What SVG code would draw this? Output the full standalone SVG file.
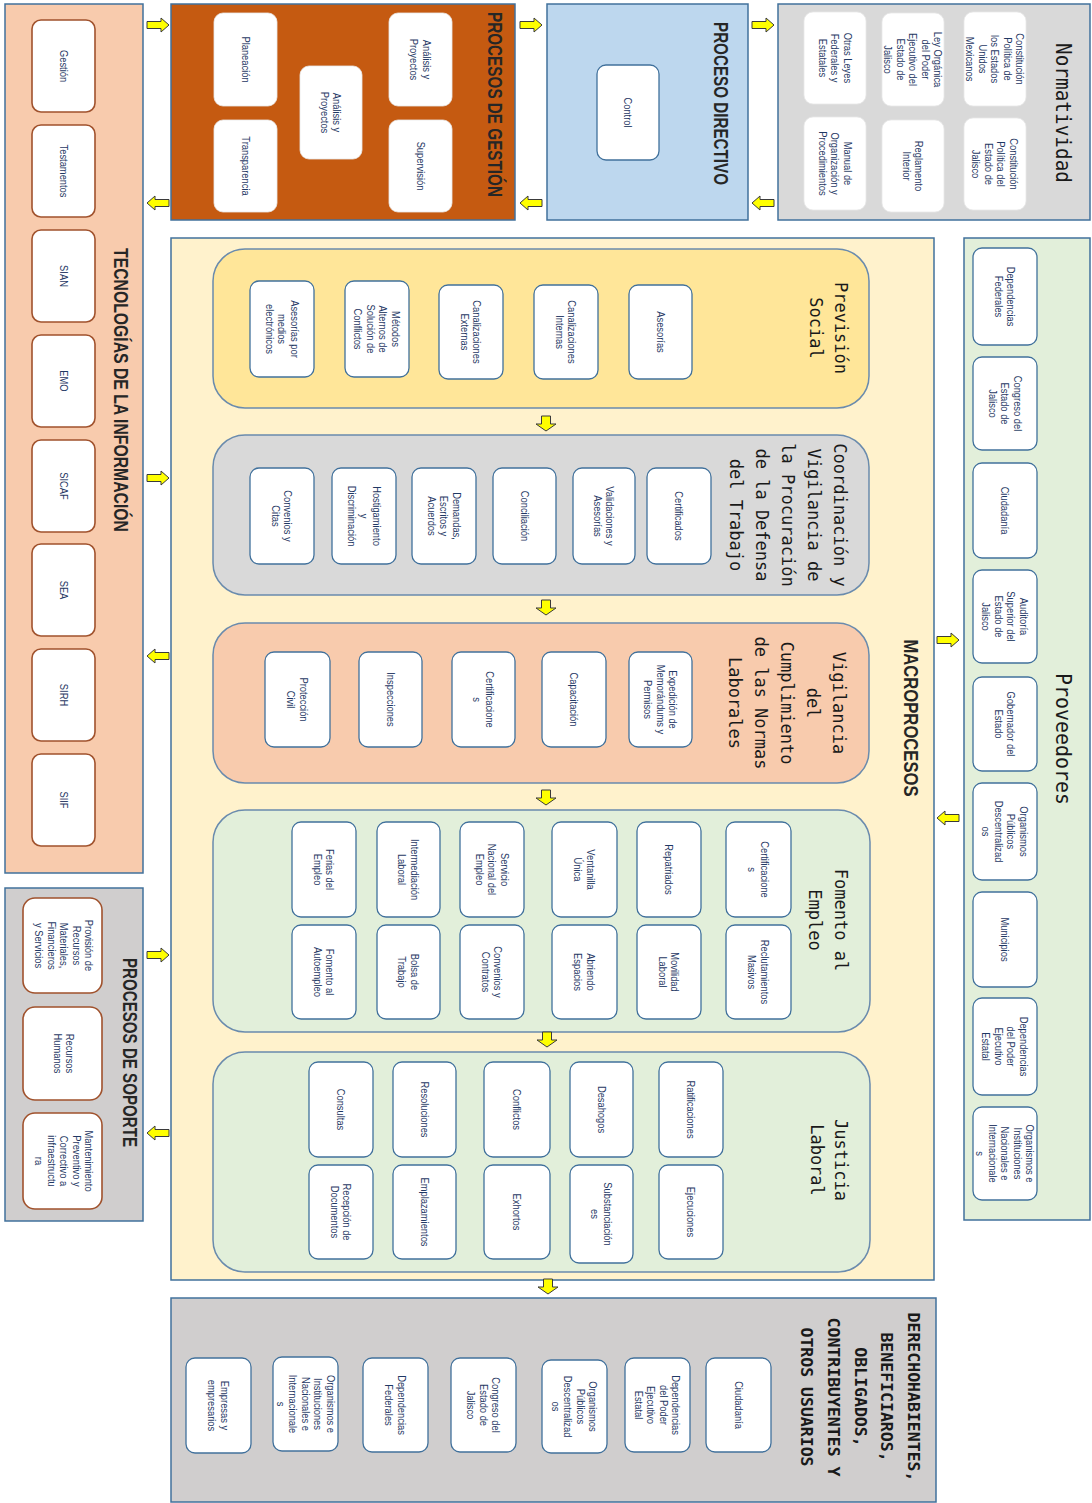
<svg xmlns="http://www.w3.org/2000/svg" width="1092" height="1503" viewBox="0 0 1092 1503">
<style>
.pn{stroke:#41719c;stroke-width:1.5}
.sec{stroke:#6a8bad;stroke-width:1.5}
.bx{fill:#fff;stroke:#41719c;stroke-width:1.3}
.bxb{fill:#fff;stroke:#a0522d;stroke-width:1.6}
.bxn{fill:#fff;stroke:#e8e8e8;stroke-width:0.8}
.s{font-family:"Liberation Sans",Arial,sans-serif;font-size:11px;fill:#1f3864;text-anchor:middle}
.h{font-family:"Liberation Sans",Arial,sans-serif;font-size:20px;font-weight:bold;fill:#262626;text-anchor:middle}
.m{font-family:"DejaVu Sans Mono","Liberation Mono",monospace;font-size:17px;fill:#1a1a1a;text-anchor:middle}
.mb{font-family:"DejaVu Sans Mono","Liberation Mono",monospace;font-size:16.5px;font-weight:bold;fill:#1a1a1a;text-anchor:middle}
.big{font-family:"DejaVu Sans Mono","Liberation Mono",monospace;font-size:21px;fill:#1a1a1a;text-anchor:middle}
.ar{fill:#ffff00;stroke:#3a3a3a;stroke-width:1}
</style>
<defs>
<path id="arR" d="M0,-3.5 H14 V-7 L22,0 L14,7 V3.5 H0 Z"/>
<path id="arL" d="M22,-3.5 H8 V-7 L0,0 L8,7 V3.5 H22 Z"/>
<path id="arD" d="M-4.5,0 V8 H-10 L0,15 L10,8 H4.5 V0 Z"/>
</defs>

<!-- Panels -->
<g id="tecnologias">
<rect class="pn" x="5" y="4" width="138" height="869" fill="#f8cbad"/>
<text class="h" transform="translate(121,390) rotate(90)" x="0" y="7" textLength="284" lengthAdjust="spacingAndGlyphs">TECNOLOGÍAS DE LA INFORMACIÓN</text>
<rect class="bxb" x="32" y="20" width="63" height="92" rx="9"/>
<text class="s" transform="translate(63.5,66) rotate(90) scale(0.85,1)"><tspan x="0" y="3.8">Gestión</tspan></text>
<rect class="bxb" x="32" y="125" width="63" height="92" rx="9"/>
<text class="s" transform="translate(63.5,171) rotate(90) scale(0.85,1)"><tspan x="0" y="3.8">Testamentos</tspan></text>
<rect class="bxb" x="32" y="230" width="63" height="92" rx="9"/>
<text class="s" transform="translate(63.5,276) rotate(90) scale(0.85,1)"><tspan x="0" y="3.8">SIAN</tspan></text>
<rect class="bxb" x="32" y="335" width="63" height="92" rx="9"/>
<text class="s" transform="translate(63.5,381) rotate(90) scale(0.85,1)"><tspan x="0" y="3.8">EMO</tspan></text>
<rect class="bxb" x="32" y="440" width="63" height="92" rx="9"/>
<text class="s" transform="translate(63.5,486) rotate(90) scale(0.85,1)"><tspan x="0" y="3.8">SICAF</tspan></text>
<rect class="bxb" x="32" y="544" width="63" height="92" rx="9"/>
<text class="s" transform="translate(63.5,590) rotate(90) scale(0.85,1)"><tspan x="0" y="3.8">SEA</tspan></text>
<rect class="bxb" x="32" y="649" width="63" height="92" rx="9"/>
<text class="s" transform="translate(63.5,695) rotate(90) scale(0.85,1)"><tspan x="0" y="3.8">SIRH</tspan></text>
<rect class="bxb" x="32" y="754" width="63" height="92" rx="9"/>
<text class="s" transform="translate(63.5,800) rotate(90) scale(0.85,1)"><tspan x="0" y="3.8">SIIF</tspan></text>
</g>

<g id="soporte">
<rect class="pn" x="5" y="888" width="138" height="333" fill="#d0cece"/>
<text class="h" transform="translate(129.5,1052.5) rotate(90)" x="0" y="7" textLength="189" lengthAdjust="spacingAndGlyphs">PROCESOS DE SOPORTE</text>
<rect class="bxb" x="23" y="898" width="79" height="95" rx="12"/>
<text class="s" transform="translate(64,945.5) rotate(90) scale(0.85,1)"><tspan x="0" y="-21.2">Provisión de</tspan><tspan x="0" y="-8.7">Recursos</tspan><tspan x="0" y="3.8">Materiales,</tspan><tspan x="0" y="16.3">Financieros</tspan><tspan x="0" y="28.8">y Servicios</tspan></text>
<rect class="bxb" x="23" y="1007" width="79" height="93" rx="12"/>
<text class="s" transform="translate(64,1053.5) rotate(90) scale(0.85,1)"><tspan x="0" y="-2.45">Recursos</tspan><tspan x="0" y="10.05">Humanos</tspan></text>
<rect class="bxb" x="23" y="1113" width="79" height="96" rx="12"/>
<text class="s" transform="translate(64,1161) rotate(90) scale(0.85,1)"><tspan x="0" y="-21.2">Mantenimiento</tspan><tspan x="0" y="-8.7">Preventivo y</tspan><tspan x="0" y="3.8">Correctivo a</tspan><tspan x="0" y="16.3">infraestructu</tspan><tspan x="0" y="28.8">ra</tspan></text>
</g>

<g id="gestion">
<rect class="pn" x="171" y="4" width="344" height="216" fill="#c55a11"/>
<text class="h" transform="translate(494.5,104.5) rotate(90)" x="0" y="7" textLength="185" lengthAdjust="spacingAndGlyphs">PROCESOS DE GESTIÓN</text>
<rect class="bxn" x="389" y="13" width="63" height="93" rx="9"/>
<text class="s" transform="translate(420.5,59.5) rotate(90) scale(0.85,1)"><tspan x="0" y="-2.45">Análisis y</tspan><tspan x="0" y="10.05">Proyectos</tspan></text>
<rect class="bxn" x="389" y="120" width="63" height="92" rx="9"/>
<text class="s" transform="translate(420.5,166) rotate(90) scale(0.85,1)"><tspan x="0" y="3.8">Supervisión</tspan></text>
<rect class="bxn" x="300" y="66" width="62" height="93" rx="9"/>
<text class="s" transform="translate(331,112.5) rotate(90) scale(0.85,1)"><tspan x="0" y="-2.45">Análisis y</tspan><tspan x="0" y="10.05">Proyectos</tspan></text>
<rect class="bxn" x="214" y="13" width="63" height="93" rx="9"/>
<text class="s" transform="translate(245.5,59.5) rotate(90) scale(0.85,1)"><tspan x="0" y="3.8">Planeación</tspan></text>
<rect class="bxn" x="214" y="120" width="63" height="92" rx="9"/>
<text class="s" transform="translate(245.5,166) rotate(90) scale(0.85,1)"><tspan x="0" y="3.8">Transparencia</tspan></text>
</g>

<g id="directivo">
<rect class="pn" x="547" y="4" width="201" height="216" fill="#bdd7ee"/>
<text class="h" transform="translate(721,103.5) rotate(90)" x="0" y="7" textLength="163" lengthAdjust="spacingAndGlyphs">PROCESO DIRECTIVO</text>
<rect class="bx" x="597" y="65" width="62" height="95" rx="9"/>
<text class="s" transform="translate(628,112.5) rotate(90) scale(0.85,1)"><tspan x="0" y="3.8">Control</tspan></text>
</g>

<g id="normatividad">
<rect class="pn" x="778" y="4" width="312" height="216" fill="#d9d9d9"/>
<text class="big" transform="translate(1062,113) rotate(90)" x="0" y="6" textLength="140" lengthAdjust="spacingAndGlyphs">Normatividad</text>
<rect class="bxn" x="964" y="12" width="62" height="94" rx="9"/>
<text class="s" transform="translate(995,59) rotate(90) scale(0.85,1)"><tspan x="0" y="-21.2">Constitución</tspan><tspan x="0" y="-8.7">Política de</tspan><tspan x="0" y="3.8">los Estados</tspan><tspan x="0" y="16.3">Unidos</tspan><tspan x="0" y="28.8">Mexicanos</tspan></text>
<rect class="bxn" x="964" y="118" width="62" height="92" rx="9"/>
<text class="s" transform="translate(995,164) rotate(90) scale(0.85,1)"><tspan x="0" y="-14.95">Constitución</tspan><tspan x="0" y="-2.45">Política del</tspan><tspan x="0" y="10.05">Estado de</tspan><tspan x="0" y="22.55">Jalisco</tspan></text>
<rect class="bxn" x="882" y="13" width="62" height="93" rx="9"/>
<text class="s" transform="translate(913,59.5) rotate(90) scale(0.85,1)"><tspan x="0" y="-21.2">Ley Orgánica</tspan><tspan x="0" y="-8.7">del Poder</tspan><tspan x="0" y="3.8">Ejecutivo del</tspan><tspan x="0" y="16.3">Estado de</tspan><tspan x="0" y="28.8">Jalisco</tspan></text>
<rect class="bxn" x="882" y="120" width="62" height="92" rx="9"/>
<text class="s" transform="translate(913,166) rotate(90) scale(0.85,1)"><tspan x="0" y="-2.45">Reglamento</tspan><tspan x="0" y="10.05">Interior</tspan></text>
<rect class="bxn" x="804" y="12" width="62" height="92" rx="9"/>
<text class="s" transform="translate(835,58) rotate(90) scale(0.85,1)"><tspan x="0" y="-8.7">Otras Leyes</tspan><tspan x="0" y="3.8">Federales y</tspan><tspan x="0" y="16.3">Estatales</tspan></text>
<rect class="bxn" x="804" y="117" width="62" height="93" rx="9"/>
<text class="s" transform="translate(835,163.5) rotate(90) scale(0.85,1)"><tspan x="0" y="-8.7">Manual de</tspan><tspan x="0" y="3.8">Organización y</tspan><tspan x="0" y="16.3">Procedimientos</tspan></text>
</g>

<g id="macroprocesos">
<rect class="pn" x="171" y="238" width="763" height="1042" fill="#fff2cc"/>
<text class="h" transform="translate(911,718) rotate(90)" x="0" y="7" textLength="157" lengthAdjust="spacingAndGlyphs">MACROPROCESOS</text>
</g>

<g id="prevision">
<rect class="sec" x="213" y="249" width="656" height="159" rx="32" fill="#ffe699"/>
<text class="m" transform="translate(828.5,328) rotate(90)"><tspan x="0" y="-6.5">Previsión</tspan><tspan x="0" y="18.5">Social</tspan></text>
<rect class="bx" x="629" y="285" width="63" height="94" rx="9"/>
<text class="s" transform="translate(660.5,332) rotate(90) scale(0.85,1)"><tspan x="0" y="3.8">Asesorías</tspan></text>
<rect class="bx" x="534" y="285" width="64" height="94" rx="9"/>
<text class="s" transform="translate(566,332) rotate(90) scale(0.85,1)"><tspan x="0" y="-2.45">Canalizaciones</tspan><tspan x="0" y="10.05">Internas</tspan></text>
<rect class="bx" x="439" y="285" width="64" height="94" rx="9"/>
<text class="s" transform="translate(471,332) rotate(90) scale(0.85,1)"><tspan x="0" y="-2.45">Canalizaciones</tspan><tspan x="0" y="10.05">Externas</tspan></text>
<rect class="bx" x="345" y="281" width="64" height="96" rx="9"/>
<text class="s" transform="translate(377,329) rotate(90) scale(0.85,1)"><tspan x="0" y="-14.95">Métodos</tspan><tspan x="0" y="-2.45">Alternos de</tspan><tspan x="0" y="10.05">Solución de</tspan><tspan x="0" y="22.55">Conflictos</tspan></text>
<rect class="bx" x="250" y="281" width="64" height="96" rx="9"/>
<text class="s" transform="translate(282,329) rotate(90) scale(0.85,1)"><tspan x="0" y="-8.7">Asesorías por</tspan><tspan x="0" y="3.8">medios</tspan><tspan x="0" y="16.3">electrónicos</tspan></text>
</g>

<g id="coordinacion">
<rect class="sec" x="213" y="435" width="656" height="160" rx="32" fill="#d9d9d9"/>
<text class="m" transform="translate(788,515) rotate(90)"><tspan x="0" y="-46">Coordinación y</tspan><tspan x="0" y="-20">Vigilancia de</tspan><tspan x="0" y="6">la Procuración</tspan><tspan x="0" y="32">de la Defensa</tspan><tspan x="0" y="58">del Trabajo</tspan></text>
<rect class="bx" x="647" y="468" width="64" height="96" rx="9"/>
<text class="s" transform="translate(679,516) rotate(90) scale(0.85,1)"><tspan x="0" y="3.8">Certificados</tspan></text>
<rect class="bx" x="573" y="468" width="62" height="96" rx="9"/>
<text class="s" transform="translate(604,516) rotate(90) scale(0.85,1)"><tspan x="0" y="-2.45">Validaciones y</tspan><tspan x="0" y="10.05">Asesorías</tspan></text>
<rect class="bx" x="493" y="468" width="63" height="96" rx="9"/>
<text class="s" transform="translate(524.5,516) rotate(90) scale(0.85,1)"><tspan x="0" y="3.8">Conciliación</tspan></text>
<rect class="bx" x="412" y="468" width="64" height="96" rx="9"/>
<text class="s" transform="translate(444,516) rotate(90) scale(0.85,1)"><tspan x="0" y="-8.7">Demandas,</tspan><tspan x="0" y="3.8">Escritos y</tspan><tspan x="0" y="16.3">Acuerdos</tspan></text>
<rect class="bx" x="332" y="468" width="64" height="96" rx="9"/>
<text class="s" transform="translate(364,516) rotate(90) scale(0.85,1)"><tspan x="0" y="-8.7">Hostigamiento</tspan><tspan x="0" y="3.8">y</tspan><tspan x="0" y="16.3">Discriminación</tspan></text>
<rect class="bx" x="250" y="468" width="64" height="96" rx="9"/>
<text class="s" transform="translate(282,516) rotate(90) scale(0.85,1)"><tspan x="0" y="-2.45">Convenios y</tspan><tspan x="0" y="10.05">Citas</tspan></text>
</g>

<g id="vigilancia">
<rect class="sec" x="213" y="623" width="656" height="160" rx="32" fill="#f8cbad"/>
<text class="m" transform="translate(786.5,703) rotate(90)"><tspan x="0" y="-46">Vigilancia</tspan><tspan x="0" y="-20">del</tspan><tspan x="0" y="6">Cumplimiento</tspan><tspan x="0" y="32">de las Normas</tspan><tspan x="0" y="58">Laborales</tspan></text>
<rect class="bx" x="629" y="652" width="63" height="95" rx="9"/>
<text class="s" transform="translate(660.5,699.5) rotate(90) scale(0.85,1)"><tspan x="0" y="-8.7">Expedición de</tspan><tspan x="0" y="3.8">Memorándums y</tspan><tspan x="0" y="16.3">Permisos</tspan></text>
<rect class="bx" x="542" y="652" width="64" height="95" rx="9"/>
<text class="s" transform="translate(574,699.5) rotate(90) scale(0.85,1)"><tspan x="0" y="3.8">Capacitación</tspan></text>
<rect class="bx" x="452" y="652" width="63" height="95" rx="9"/>
<text class="s" transform="translate(483.5,699.5) rotate(90) scale(0.85,1)"><tspan x="0" y="-2.45">Certificacione</tspan><tspan x="0" y="10.05">s</tspan></text>
<rect class="bx" x="359" y="652" width="63" height="95" rx="9"/>
<text class="s" transform="translate(390.5,699.5) rotate(90) scale(0.85,1)"><tspan x="0" y="3.8">Inspecciones</tspan></text>
<rect class="bx" x="265" y="652" width="65" height="95" rx="9"/>
<text class="s" transform="translate(297.5,699.5) rotate(90) scale(0.85,1)"><tspan x="0" y="-2.45">Protección</tspan><tspan x="0" y="10.05">Civil</tspan></text>
</g>

<g id="fomento">
<rect class="sec" x="213" y="810" width="657" height="222" rx="32" fill="#e2efda"/>
<text class="m" transform="translate(828,920) rotate(90)"><tspan x="0" y="-7">Fomento al</tspan><tspan x="0" y="19">Empleo</tspan></text>
<rect class="bx" x="726" y="822" width="65" height="95" rx="9"/>
<text class="s" transform="translate(758.5,869.5) rotate(90) scale(0.85,1)"><tspan x="0" y="-2.45">Certificacione</tspan><tspan x="0" y="10.05">s</tspan></text>
<rect class="bx" x="726" y="925" width="65" height="94" rx="9"/>
<text class="s" transform="translate(758.5,972) rotate(90) scale(0.85,1)"><tspan x="0" y="-2.45">Reclutamientos</tspan><tspan x="0" y="10.05">Masivos</tspan></text>
<rect class="bx" x="637" y="822" width="64" height="95" rx="9"/>
<text class="s" transform="translate(669,869.5) rotate(90) scale(0.85,1)"><tspan x="0" y="3.8">Repatriados</tspan></text>
<rect class="bx" x="637" y="925" width="64" height="94" rx="9"/>
<text class="s" transform="translate(669,972) rotate(90) scale(0.85,1)"><tspan x="0" y="-2.45">Movilidad</tspan><tspan x="0" y="10.05">Laboral</tspan></text>
<rect class="bx" x="552" y="822" width="65" height="95" rx="9"/>
<text class="s" transform="translate(584.5,869.5) rotate(90) scale(0.85,1)"><tspan x="0" y="-2.45">Ventanilla</tspan><tspan x="0" y="10.05">Única</tspan></text>
<rect class="bx" x="552" y="925" width="65" height="94" rx="9"/>
<text class="s" transform="translate(584.5,972) rotate(90) scale(0.85,1)"><tspan x="0" y="-2.45">Abriendo</tspan><tspan x="0" y="10.05">Espacios</tspan></text>
<rect class="bx" x="460" y="822" width="64" height="95" rx="9"/>
<text class="s" transform="translate(492,869.5) rotate(90) scale(0.85,1)"><tspan x="0" y="-8.7">Servicio</tspan><tspan x="0" y="3.8">Nacional del</tspan><tspan x="0" y="16.3">Empleo</tspan></text>
<rect class="bx" x="460" y="925" width="64" height="94" rx="9"/>
<text class="s" transform="translate(492,972) rotate(90) scale(0.85,1)"><tspan x="0" y="-2.45">Convenios y</tspan><tspan x="0" y="10.05">Contratos</tspan></text>
<rect class="bx" x="377" y="822" width="63" height="95" rx="9"/>
<text class="s" transform="translate(408.5,869.5) rotate(90) scale(0.85,1)"><tspan x="0" y="-2.45">Intermediación</tspan><tspan x="0" y="10.05">Laboral</tspan></text>
<rect class="bx" x="377" y="925" width="63" height="94" rx="9"/>
<text class="s" transform="translate(408.5,972) rotate(90) scale(0.85,1)"><tspan x="0" y="-2.45">Bolsa de</tspan><tspan x="0" y="10.05">Trabajo</tspan></text>
<rect class="bx" x="292" y="822" width="64" height="95" rx="9"/>
<text class="s" transform="translate(324,869.5) rotate(90) scale(0.85,1)"><tspan x="0" y="-2.45">Ferias del</tspan><tspan x="0" y="10.05">Empleo</tspan></text>
<rect class="bx" x="292" y="925" width="64" height="94" rx="9"/>
<text class="s" transform="translate(324,972) rotate(90) scale(0.85,1)"><tspan x="0" y="-2.45">Fomento al</tspan><tspan x="0" y="10.05">Autoempleo</tspan></text>
</g>

<g id="justicia">
<rect class="sec" x="213" y="1052" width="657" height="220" rx="32" fill="#e2efda"/>
<text class="m" transform="translate(828.5,1160) rotate(90)"><tspan x="0" y="-6">Justicia</tspan><tspan x="0" y="18">Laboral</tspan></text>
<rect class="bx" x="659" y="1062" width="64" height="95" rx="9"/>
<text class="s" transform="translate(691,1109.5) rotate(90) scale(0.85,1)"><tspan x="0" y="3.8">Ratificaciones</tspan></text>
<rect class="bx" x="659" y="1165" width="64" height="94" rx="9"/>
<text class="s" transform="translate(691,1212) rotate(90) scale(0.85,1)"><tspan x="0" y="3.8">Ejecuciones</tspan></text>
<rect class="bx" x="570" y="1062" width="63" height="95" rx="9"/>
<text class="s" transform="translate(601.5,1109.5) rotate(90) scale(0.85,1)"><tspan x="0" y="3.8">Desahogos</tspan></text>
<rect class="bx" x="570" y="1165" width="63" height="98" rx="9"/>
<text class="s" transform="translate(601.5,1214) rotate(90) scale(0.85,1)"><tspan x="0" y="-2.45">Substanciación</tspan><tspan x="0" y="10.05">es</tspan></text>
<rect class="bx" x="484" y="1062" width="66" height="95" rx="9"/>
<text class="s" transform="translate(517,1109.5) rotate(90) scale(0.85,1)"><tspan x="0" y="3.8">Conflictos</tspan></text>
<rect class="bx" x="484" y="1165" width="66" height="94" rx="9"/>
<text class="s" transform="translate(517,1212) rotate(90) scale(0.85,1)"><tspan x="0" y="3.8">Exhortos</tspan></text>
<rect class="bx" x="393" y="1062" width="63" height="95" rx="9"/>
<text class="s" transform="translate(424.5,1109.5) rotate(90) scale(0.85,1)"><tspan x="0" y="3.8">Resoluciones</tspan></text>
<rect class="bx" x="393" y="1165" width="63" height="94" rx="9"/>
<text class="s" transform="translate(424.5,1212) rotate(90) scale(0.85,1)"><tspan x="0" y="3.8">Emplazamientos</tspan></text>
<rect class="bx" x="309" y="1062" width="64" height="95" rx="9"/>
<text class="s" transform="translate(341,1109.5) rotate(90) scale(0.85,1)"><tspan x="0" y="3.8">Consultas</tspan></text>
<rect class="bx" x="309" y="1165" width="64" height="94" rx="9"/>
<text class="s" transform="translate(341,1212) rotate(90) scale(0.85,1)"><tspan x="0" y="-2.45">Recepción de</tspan><tspan x="0" y="10.05">Documentos</tspan></text>
</g>

<g id="proveedores">
<rect class="pn" x="964" y="238" width="126" height="982" fill="#e2efda"/>
<text class="big" transform="translate(1062,739) rotate(90)" x="0" y="6" textLength="132" lengthAdjust="spacingAndGlyphs">Proveedores</text>
<rect class="bx" x="973" y="248" width="64" height="97" rx="9"/>
<text class="s" transform="translate(1005,296.5) rotate(90) scale(0.85,1)"><tspan x="0" y="-2.45">Dependencias</tspan><tspan x="0" y="10.05">Federales</tspan></text>
<rect class="bx" x="973" y="357" width="64" height="93" rx="9"/>
<text class="s" transform="translate(1005,403.5) rotate(90) scale(0.85,1)"><tspan x="0" y="-8.7">Congreso del</tspan><tspan x="0" y="3.8">Estado de</tspan><tspan x="0" y="16.3">Jalisco</tspan></text>
<rect class="bx" x="973" y="463" width="64" height="95" rx="9"/>
<text class="s" transform="translate(1005,510.5) rotate(90) scale(0.85,1)"><tspan x="0" y="3.8">Ciudadanía</tspan></text>
<rect class="bx" x="973" y="570" width="64" height="93" rx="9"/>
<text class="s" transform="translate(1005,616.5) rotate(90) scale(0.85,1)"><tspan x="0" y="-14.95">Auditoría</tspan><tspan x="0" y="-2.45">Superior del</tspan><tspan x="0" y="10.05">Estado de</tspan><tspan x="0" y="22.55">Jalisco</tspan></text>
<rect class="bx" x="973" y="677" width="64" height="94" rx="9"/>
<text class="s" transform="translate(1005,724) rotate(90) scale(0.85,1)"><tspan x="0" y="-2.45">Gobernador del</tspan><tspan x="0" y="10.05">Estado</tspan></text>
<rect class="bx" x="973" y="783" width="64" height="97" rx="9"/>
<text class="s" transform="translate(1005,831.5) rotate(90) scale(0.85,1)"><tspan x="0" y="-14.95">Organismos</tspan><tspan x="0" y="-2.45">Públicos</tspan><tspan x="0" y="10.05">Descentralizad</tspan><tspan x="0" y="22.55">os</tspan></text>
<rect class="bx" x="973" y="892" width="64" height="95" rx="9"/>
<text class="s" transform="translate(1005,939.5) rotate(90) scale(0.85,1)"><tspan x="0" y="3.8">Municipios</tspan></text>
<rect class="bx" x="973" y="998" width="64" height="97" rx="9"/>
<text class="s" transform="translate(1005,1046.5) rotate(90) scale(0.85,1)"><tspan x="0" y="-14.95">Dependencias</tspan><tspan x="0" y="-2.45">del Poder</tspan><tspan x="0" y="10.05">Ejecutivo</tspan><tspan x="0" y="22.55">Estatal</tspan></text>
<rect class="bx" x="973" y="1107" width="64" height="93" rx="9"/>
<text class="s" transform="translate(1005,1153.5) rotate(90) scale(0.85,1)"><tspan x="0" y="-21.2">Organismos e</tspan><tspan x="0" y="-8.7">Instituciones</tspan><tspan x="0" y="3.8">Nacionales e</tspan><tspan x="0" y="16.3">Internacionale</tspan><tspan x="0" y="28.8">s</tspan></text>
</g>

<g id="usuarios">
<rect class="pn" x="171" y="1298" width="765" height="204" fill="#d0cece"/>
<text class="mb" transform="translate(860.5,1397) rotate(90)"><tspan x="0" y="-47.5">DERECHOHABIENTES,</tspan><tspan x="0" y="-20.8">BENEFICIAROS,</tspan><tspan x="0" y="6">OBLIGADOS,</tspan><tspan x="0" y="32.8">CONTRIBUYENTES Y</tspan><tspan x="0" y="59.5">OTROS USUARIOS</tspan></text>
<rect class="bx" x="706" y="1358" width="65" height="94" rx="9"/>
<text class="s" transform="translate(738.5,1405) rotate(90) scale(0.85,1)"><tspan x="0" y="3.8">Ciudadanía</tspan></text>
<rect class="bx" x="625" y="1358" width="65" height="94" rx="9"/>
<text class="s" transform="translate(657.5,1405) rotate(90) scale(0.85,1)"><tspan x="0" y="-14.95">Dependencias</tspan><tspan x="0" y="-2.45">del Poder</tspan><tspan x="0" y="10.05">Ejecutivo</tspan><tspan x="0" y="22.55">Estatal</tspan></text>
<rect class="bx" x="542" y="1360" width="65" height="93" rx="9"/>
<text class="s" transform="translate(574.5,1406.5) rotate(90) scale(0.85,1)"><tspan x="0" y="-14.95">Organismos</tspan><tspan x="0" y="-2.45">Públicos</tspan><tspan x="0" y="10.05">Descentralizad</tspan><tspan x="0" y="22.55">os</tspan></text>
<rect class="bx" x="451" y="1358" width="65" height="94" rx="9"/>
<text class="s" transform="translate(483.5,1405) rotate(90) scale(0.85,1)"><tspan x="0" y="-8.7">Congreso del</tspan><tspan x="0" y="3.8">Estado de</tspan><tspan x="0" y="16.3">Jalisco</tspan></text>
<rect class="bx" x="363" y="1358" width="65" height="94" rx="9"/>
<text class="s" transform="translate(395.5,1405) rotate(90) scale(0.85,1)"><tspan x="0" y="-2.45">Dependencias</tspan><tspan x="0" y="10.05">Federales</tspan></text>
<rect class="bx" x="273" y="1357" width="65" height="94" rx="9"/>
<text class="s" transform="translate(305.5,1404) rotate(90) scale(0.85,1)"><tspan x="0" y="-21.2">Organismos e</tspan><tspan x="0" y="-8.7">Instituciones</tspan><tspan x="0" y="3.8">Nacionales e</tspan><tspan x="0" y="16.3">Internacionale</tspan><tspan x="0" y="28.8">s</tspan></text>
<rect class="bx" x="186" y="1358" width="65" height="95" rx="9"/>
<text class="s" transform="translate(218.5,1405.5) rotate(90) scale(0.85,1)"><tspan x="0" y="-2.45">Empresas y</tspan><tspan x="0" y="10.05">empresarios</tspan></text>
</g>

<g id="connectors">
<use class="ar" href="#arR" x="147" y="25"/>
<use class="ar" href="#arL" x="147" y="203"/>
<use class="ar" href="#arR" x="520" y="25"/>
<use class="ar" href="#arL" x="520" y="203"/>
<use class="ar" href="#arR" x="752" y="25"/>
<use class="ar" href="#arL" x="752" y="203"/>
<use class="ar" href="#arR" x="147" y="478"/>
<use class="ar" href="#arL" x="147" y="656"/>
<use class="ar" href="#arR" x="147" y="955"/>
<use class="ar" href="#arL" x="147" y="1133"/>
<use class="ar" href="#arR" x="937" y="640"/>
<use class="ar" href="#arL" x="937" y="818"/>
<use class="ar" href="#arD" x="546" y="416"/>
<use class="ar" href="#arD" x="546" y="600"/>
<use class="ar" href="#arD" x="546" y="790"/>
<use class="ar" href="#arD" x="547" y="1032"/>
<use class="ar" href="#arD" x="548" y="1279"/>
</g>
</svg>
